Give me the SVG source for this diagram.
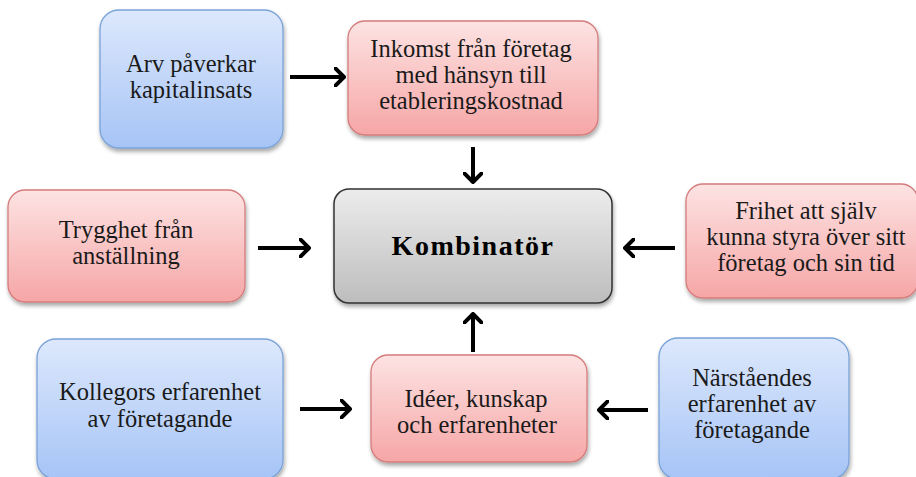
<svg xmlns="http://www.w3.org/2000/svg" width="916" height="477" viewBox="0 0 916 477">
<defs>
<linearGradient id="gBlue" x1="0" y1="0" x2="0" y2="1"><stop offset="0" stop-color="#dde8fc"/><stop offset="1" stop-color="#a6c4f6"/></linearGradient>
<linearGradient id="gRed" x1="0" y1="0" x2="0" y2="1"><stop offset="0" stop-color="#fde3e3"/><stop offset="1" stop-color="#f6a6a6"/></linearGradient>
<linearGradient id="gGrey" x1="0" y1="0" x2="0" y2="1"><stop offset="0" stop-color="#ececec"/><stop offset="1" stop-color="#bdbdbd"/></linearGradient>
<filter id="sh" x="-10%" y="-10%" width="130%" height="130%"><feGaussianBlur in="SourceAlpha" stdDeviation="2"/><feOffset dx="1" dy="3"/><feComponentTransfer><feFuncA type="linear" slope="0.35"/></feComponentTransfer><feMerge><feMergeNode/><feMergeNode in="SourceGraphic"/></feMerge></filter>
<marker id="ah" viewBox="0 0 12 20" refX="10" refY="10" markerWidth="12" markerHeight="20" markerUnits="userSpaceOnUse" orient="auto"><polyline points="1,1 10,10 1,19" fill="none" stroke="#000" stroke-width="4" stroke-linecap="round" stroke-linejoin="round"/></marker>
</defs>
<style>
.blue{fill:url(#gBlue);stroke:#7aa3d8;stroke-width:1.3;filter:url(#sh)}
.red{fill:url(#gRed);stroke:#d57c7c;stroke-width:1.3;filter:url(#sh)}
.grey{fill:url(#gGrey);stroke:#333;stroke-width:1.5;filter:url(#sh)}
.conn line{stroke:#000;stroke-width:4;marker-end:url(#ah)}
</style>
<rect width="916" height="477" fill="#fff"/>
<g id="arv"><rect class="blue" x="100" y="10" width="183" height="138" rx="19"/>
<text x="191" y="72" font-family="Liberation Serif" font-size="24.5" fill="#1a1a1a" text-anchor="middle">Arv påverkar</text>
<text x="191" y="98" font-family="Liberation Serif" font-size="24.5" fill="#1a1a1a" text-anchor="middle">kapitalinsats</text></g>
<g id="inkomst"><rect class="red" x="348" y="21" width="250" height="114" rx="17"/>
<text x="471" y="57" font-family="Liberation Serif" font-size="24.5" fill="#1a1a1a" text-anchor="middle">Inkomst från företag</text>
<text x="471" y="83" font-family="Liberation Serif" font-size="24.5" fill="#1a1a1a" text-anchor="middle">med hänsyn till</text>
<text x="471" y="109" font-family="Liberation Serif" font-size="24.5" fill="#1a1a1a" text-anchor="middle">etableringskostnad</text></g>
<g id="trygghet"><rect class="red" x="8" y="190" width="237" height="112" rx="17"/>
<text x="126" y="238" font-family="Liberation Serif" font-size="24.5" fill="#1a1a1a" text-anchor="middle">Trygghet från</text>
<text x="126" y="264" font-family="Liberation Serif" font-size="24.5" fill="#1a1a1a" text-anchor="middle">anställning</text></g>
<g id="kombinator"><rect class="grey" x="334" y="189" width="278" height="114" rx="15"/>
<text x="473" y="255" font-family="Liberation Serif" font-size="28" font-weight="bold" letter-spacing="1.5" fill="#000" text-anchor="middle">Kombinatör</text></g>
<g id="frihet"><rect class="red" x="686" y="184" width="232" height="114" rx="17"/>
<text x="806" y="219" font-family="Liberation Serif" font-size="24.5" fill="#1a1a1a" text-anchor="middle">Frihet att själv</text>
<text x="806" y="245" font-family="Liberation Serif" font-size="24.5" fill="#1a1a1a" text-anchor="middle">kunna styra över sitt</text>
<text x="806" y="271" font-family="Liberation Serif" font-size="24.5" fill="#1a1a1a" text-anchor="middle">företag och sin tid</text></g>
<g id="kollegor"><rect class="blue" x="37" y="339" width="246" height="140" rx="19"/>
<text x="160" y="400" font-family="Liberation Serif" font-size="24.5" fill="#1a1a1a" text-anchor="middle">Kollegors erfarenhet</text>
<text x="160" y="427" font-family="Liberation Serif" font-size="24.5" fill="#1a1a1a" text-anchor="middle">av företagande</text></g>
<g id="ideer"><rect class="red" x="371" y="355" width="216" height="107" rx="17"/>
<text x="476" y="407" font-family="Liberation Serif" font-size="24.5" fill="#1a1a1a" text-anchor="middle">Idéer, kunskap</text>
<text x="477" y="433" font-family="Liberation Serif" font-size="24.5" fill="#1a1a1a" text-anchor="middle">och erfarenheter</text></g>
<g id="narstaende"><rect class="blue" x="659" y="338" width="190" height="141" rx="19"/>
<text x="752" y="386" font-family="Liberation Serif" font-size="24.5" fill="#1a1a1a" text-anchor="middle">Närståendes</text>
<text x="752" y="412" font-family="Liberation Serif" font-size="24.5" fill="#1a1a1a" text-anchor="middle">erfarenhet av</text>
<text x="752" y="438" font-family="Liberation Serif" font-size="24.5" fill="#1a1a1a" text-anchor="middle">företagande</text></g>
<g class="conn" id="connectors">
<line x1="290" y1="77" x2="344" y2="77"/>
<line x1="473" y1="147" x2="473" y2="182"/>
<line x1="258" y1="248" x2="309" y2="248"/>
<line x1="675" y1="248" x2="625" y2="248"/>
<line x1="473" y1="352" x2="473" y2="314"/>
<line x1="300" y1="409" x2="350" y2="409"/>
<line x1="648" y1="410" x2="599" y2="410"/>
</g>
</svg>
